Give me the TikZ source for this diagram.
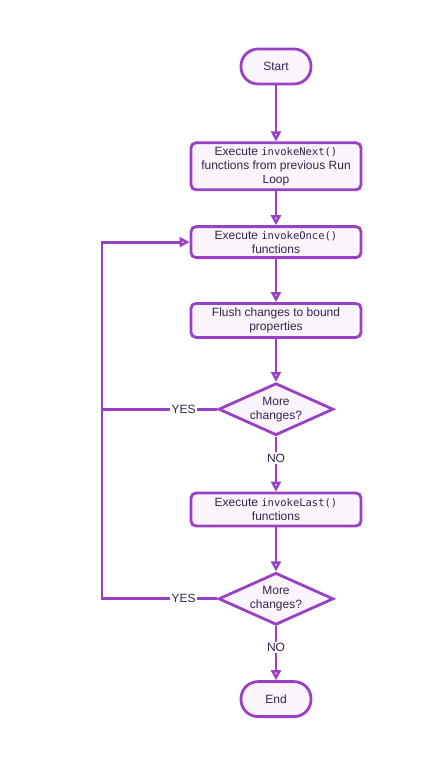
\documentclass[tikz,border=0pt]{standalone}
\usepackage{fontspec}
\setmainfont{Liberation Sans}
\setmonofont{DejaVu Sans Mono}
\usetikzlibrary{positioning, shapes.geometric, arrows.meta}

\definecolor{flowline}{RGB}{153,65,196}
\definecolor{flowfill}{RGB}{250,244,253}
\definecolor{flowtext}{RGB}{55,35,75}

\tikzset{
    base/.style={draw=flowline, fill=flowfill, line width=2.8pt, text=flowtext,
        font=\fontsize{12}{14}\selectfont, align=center},
    terminal/.style={base, rounded corners=17pt, minimum width=70pt, minimum height=35pt, inner sep=3pt},
    process/.style={base, rounded corners=5pt, minimum width=170pt, inner sep=3pt},
    decision/.style={base, diamond, aspect=2.2, inner sep=0pt, minimum width=115pt, minimum height=52pt},
    flow/.style={draw=flowline, line width=2.8pt, -{Triangle[length=10pt, width=10pt, fill=white]}},
    loopline/.style={draw=flowline, line width=2.8pt},
    lbl/.style={fill=white, text=flowtext, font=\fontsize{12}{14}\selectfont, inner sep=1.5pt}
}
\newcommand{\fn}[1]{{\fontsize{10.5}{14}\selectfont\ttfamily #1}}

\begin{document}
\begin{tikzpicture}[x=1pt, y=1pt]
    \useasboundingbox (0,0) rectangle (435,-765);

    % Steps
    \node[terminal] (start) at (276,-66.5) {Start};
    \node[process, minimum height=47pt, below=56pt of start] (next) {Execute \fn{invokeNext()}\\functions from previous Run\\Loop};
    \node[process, minimum height=31pt, below=34pt of next] (once) {Execute \fn{invokeOnce()}\\functions};
    \node[process, minimum height=34pt, below=43pt of once] (flush) {Flush changes to bound\\properties};
    \node[decision, below=43pt of flush] (more1) {More\\changes?};
    \node[process, minimum height=33pt, below=55pt of more1] (last) {Execute \fn{invokeLast()}\\functions};
    \node[decision, below=44pt of last] (more2) {More\\changes?};
    \node[terminal, below=54pt of more2] (end) {End};
    \coordinate (loop) at (102,0);

    % Arrows
    \draw[flow] (start) -- (next);
    \draw[flow] (next) -- (once);
    \draw[flow] (once) -- (flush);
    \draw[flow] (flush) -- (more1);
    \draw[flow] (more1) -- node[lbl, pos=0.39] {NO} (last);
    \draw[flow] (last) -- (more2);
    \draw[flow] (more2) -- node[lbl, pos=0.39] {NO} (end);

    % Loops back
    \draw[flow] (more1.west) -- node[lbl, pos=0.29] {YES} (more1.west -| loop) |- (once.west);
    \draw[loopline] (more2.west) -- node[lbl, pos=0.29] {YES} (more2.west -| loop) -- (more1.west -| loop);
\end{tikzpicture}
\end{document}
